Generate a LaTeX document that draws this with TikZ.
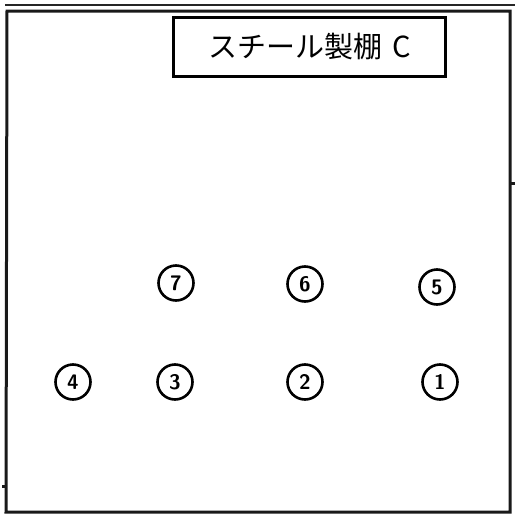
\documentclass[tikz,border=0pt]{standalone}
\usepackage{fontspec}
\newfontfamily\cjk{Noto Sans CJK JP}
\tikzset{
  frame/.style={line width=3pt, black!90},
  thin frame/.style={line width=1.8pt, black!85},
  num/.style={circle, draw, line width=2.6pt, minimum size=35pt, inner sep=0pt, font=\sffamily\bfseries\fontsize{21}{21}\selectfont},
  titlebox/.style={draw, line width=2.4pt, minimum width=272pt, minimum height=59pt, font=\cjk\fontsize{29}{29}\selectfont}
}
\begin{document}
\begin{tikzpicture}[x=1pt,y=-1pt]
\useasboundingbox (0,0) rectangle (515,515);
% outer frame
\draw[thin frame] (5,5) -- (515,5);
\draw[frame] (7,11) -- (510,11) -- (510,512) -- (6,512) -- cycle;
\draw[frame] (510,183) -- (515,183);
\draw[frame] (2,486) -- (6,486);
% title
\node[titlebox] (title) at (309.5,47) {スチール製棚\,\,C};
% posts
\node[num] (n7) at (176,283) {7};
\node[num] (n6) at (305,284) {6};
\node[num] (n5) at (437,287) {5};
\node[num] (n4) at (73,382) {4};
\node[num] (n3) at (175,382) {3};
\node[num] (n2) at (305,382) {2};
\node[num] (n1) at (440,382) {1};
\end{tikzpicture}
\end{document}
